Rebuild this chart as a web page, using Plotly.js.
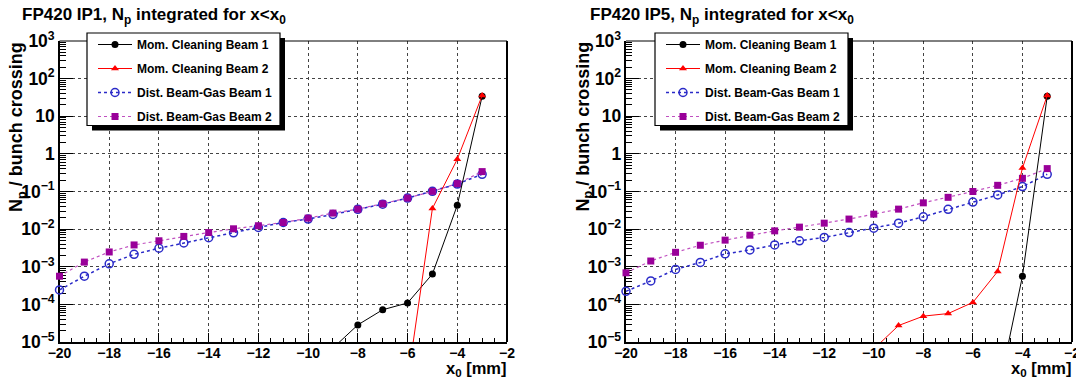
<!DOCTYPE html>
<html>
<head>
<meta charset="utf-8">
<script src="https://cdn.plot.ly/plotly-3.0.1.min.js"></script>
<style>html,body{margin:0;padding:0;background:#fff;}#chart{width:1076px;height:380px;}</style>
</head>
<body>
<div id="chart"></div>
<script>
// ---- data ----
var seriesNames = ['Mom. Cleaning Beam 1', 'Mom. Cleaning Beam 2', 'Dist. Beam-Gas Beam 1', 'Dist. Beam-Gas Beam 2'];
var panelTitles = ['FP420 IP1, N<sub>p</sub> integrated for x&lt;x<sub>0</sub>', 'FP420 IP5, N<sub>p</sub> integrated for x&lt;x<sub>0</sub>'];
var yTitle = 'N<sub>p</sub> / bunch crossing';
var xTitle = 'x<sub>0</sub> [mm]';

var xGas = [-20, -19, -18, -17, -16, -15, -14, -13, -12, -11, -10, -9, -8, -7, -6, -5, -4, -3];

// IP1
var ip1_mc1_x = [-9, -8, -7, -6, -5, -4, -3];
var ip1_mc1_y = [6.9e-6, 2.85e-5, 7.2e-5, 1.09e-4, 6.4e-4, 4.3e-2, 34];
var ip1_mc2_x = [-6, -5, -4, -3];
var ip1_mc2_y = [9e-7, 3.56e-2, 0.72, 35.5];
var ip1_bg1_y = [2.42e-4, 5.6e-4, 1.2e-3, 2.14e-3, 3.1e-3, 4.3e-3, 5.9e-3, 8.0e-3, 1.11e-2, 1.5e-2, 1.85e-2, 2.46e-2, 3.35e-2, 4.6e-2, 6.7e-2, 0.101, 0.158, 0.287];
var ip1_bg2_y = [5.6e-4, 1.33e-3, 2.47e-3, 3.8e-3, 4.9e-3, 6.4e-3, 8.1e-3, 1.02e-2, 1.23e-2, 1.5e-2, 1.96e-2, 2.67e-2, 3.4e-2, 4.7e-2, 6.7e-2, 0.101, 0.162, 0.338];

// IP5
var ip5_mc1_x = [-5, -4, -3];
var ip5_mc1_y = [4e-7, 5.6e-4, 34];
var ip5_mc2_x = [-10, -9, -8, -7, -6, -5, -4, -3];
var ip5_mc2_y = [6.5e-6, 2.74e-5, 4.87e-5, 5.7e-5, 1.13e-4, 7.5e-4, 0.42, 35.5];
var ip5_bg1_y = [2.23e-4, 4.2e-4, 8.5e-4, 1.3e-3, 2.2e-3, 2.8e-3, 3.8e-3, 4.9e-3, 6.0e-3, 8.1e-3, 1.06e-2, 1.44e-2, 2.13e-2, 3.35e-2, 5.25e-2, 8.1e-2, 0.135, 0.287];
var ip5_bg2_y = [6.9e-4, 1.42e-3, 2.42e-3, 3.73e-3, 5.1e-3, 6.9e-3, 9.0e-3, 1.13e-2, 1.44e-2, 1.85e-2, 2.5e-2, 3.4e-2, 5.0e-2, 7.0e-2, 0.10, 0.146, 0.224, 0.406];

// ---- styling ----
var FONT = 'Liberation Sans, Arial, Helvetica, sans-serif';
var W = 1076, H = 380;
function px(x) { return x / W; }
function py(y) { return 1 - y / H; }

var styles = [
  {mode: 'lines+markers', line: {color: '#000000', width: 1}, marker: {symbol: 'circle', size: 7, color: '#000000'}},
  {mode: 'lines+markers', line: {color: '#ff0000', width: 1}, marker: {symbol: 'triangle-up', size: 7, color: '#ff0000'}},
  {mode: 'lines+markers', line: {color: '#2a2ac8', width: 1.5, dash: 'dot'}, marker: {symbol: 'circle-open', size: 8, color: '#2a2ac8', line: {width: 1.5, color: '#2a2ac8'}}},
  {mode: 'lines+markers', line: {color: '#c050c0', width: 1.2, dash: 'dot'}, marker: {symbol: 'square', size: 7, color: '#990099'}}
];

function mk(i, x, y, xa, ya, lg) {
  var s = styles[i];
  return {
    type: 'scatter', x: x, y: y, xaxis: xa, yaxis: ya, name: '<b>' + seriesNames[i] + '</b>',
    mode: s.mode, line: s.line, marker: s.marker, cliponaxis: false,
    legend: lg, legendgroup: lg + '_' + i, legendrank: i + 1, showlegend: true, hoverinfo: 'skip'
  };
}

var traces = [
  mk(2, xGas, ip1_bg1_y, 'x', 'y', 'legend'),
  mk(3, xGas, ip1_bg2_y, 'x', 'y', 'legend'),
  mk(0, ip1_mc1_x, ip1_mc1_y, 'x', 'y', 'legend'),
  mk(1, ip1_mc2_x, ip1_mc2_y, 'x', 'y', 'legend'),
  mk(2, xGas, ip5_bg1_y, 'x2', 'y2', 'legend2'),
  mk(3, xGas, ip5_bg2_y, 'x2', 'y2', 'legend2'),
  mk(0, ip5_mc1_x, ip5_mc1_y, 'x2', 'y2', 'legend2'),
  mk(1, ip5_mc2_x, ip5_mc2_y, 'x2', 'y2', 'legend2')
];

var frames = [
  {l: 59.5, r: 507, t: 41, b: 342},
  {l: 626, r: 1072, t: 41, b: 342}
];

function xaxisDef(f, anchor) {
  return {
    domain: [px(f.l), px(f.r)], anchor: anchor, range: [-20, -2],
    tick0: -20, dtick: 2, ticks: 'inside', ticklen: 9, tickwidth: 1, tickcolor: '#000',
    minor: {dtick: 0.5, ticks: 'inside', ticklen: 4, tickcolor: '#000', showgrid: false},
    showgrid: true, gridcolor: '#444', griddash: 'dot', gridwidth: 1,
    showline: true, linecolor: '#000', linewidth: 2, mirror: false, zeroline: false,
    tickfont: {family: FONT, size: 14, color: '#000', weight: 'bold'},
    ticklabeloverflow: 'allow', ticklabelstandoff: -3,
    fixedrange: true, layer: 'below traces'
  };
}
function yaxisDef(f, anchor) {
  return {
    domain: [py(f.b), py(f.t)], anchor: anchor, type: 'log', range: [-5, 3],
    dtick: 1, exponentformat: 'power', ticks: 'inside', ticklen: 13, tickwidth: 1, tickcolor: '#000',
    minor: {dtick: 'D1', ticks: 'inside', ticklen: 6, tickcolor: '#000', showgrid: false},
    showgrid: true, gridcolor: '#444', griddash: 'dot', gridwidth: 1,
    showline: true, linecolor: '#000', linewidth: 2, mirror: false, zeroline: false,
    tickfont: {family: FONT, size: 14, color: '#000', weight: 'bold'},
    ticklabeloverflow: 'allow',
    fixedrange: true, layer: 'below traces'
  };
}

var legendBoxes = [
  {l: 87, r: 280, t: 33, b: 125.5},
  {l: 655, r: 848, t: 33, b: 125.5}
];

var shapes = [];
var annotations = [];
for (var k = 0; k < 2; k++) {
  var f = frames[k], xs = k === 0 ? 'x' : 'x2', ys = k === 0 ? 'y' : 'y2';
  shapes.push({type: 'line', xref: xs + ' domain', yref: ys + ' domain', x0: 0, x1: 1, y0: 1, y1: 1, line: {color: '#000', width: 1}, layer: 'above'});
  shapes.push({type: 'line', xref: xs + ' domain', yref: ys + ' domain', x0: 1, x1: 1, y0: 0, y1: 1, line: {color: '#000', width: 2}, layer: 'above'});
  var lb = legendBoxes[k];
  shapes.push({type: 'rect', xref: 'paper', yref: 'paper', x0: px(lb.l + 5), x1: px(lb.r + 5), y0: py(lb.b + 5), y1: py(lb.t + 5), fillcolor: '#000', line: {width: 0}, layer: 'above'});
  shapes.push({type: 'rect', xref: 'paper', yref: 'paper', x0: px(lb.l), x1: px(lb.r), y0: py(lb.b), y1: py(lb.t), fillcolor: '#fff', line: {color: '#000', width: 1.2}, layer: 'above'});
  annotations.push({text: '<b>' + panelTitles[k] + '</b>', xref: 'paper', yref: 'paper', x: px(k === 0 ? 20 : 588), y: py(16), xanchor: 'left', yanchor: 'middle', showarrow: false, font: {family: FONT, size: 17, color: '#000', weight: 'bold'}});
  annotations.push({text: '<b>' + yTitle + '</b>', xref: 'paper', yref: 'paper', x: px(f.l - 42.5), y: py(40), xanchor: 'center', yanchor: 'top', textangle: -90, showarrow: false, font: {family: FONT, size: 18, color: '#000', weight: 'bold'}});
  annotations.push({text: '<b>' + xTitle + '</b>', xref: 'paper', yref: 'paper', x: px(f.r + 1), y: 0, xanchor: 'right', yanchor: 'bottom', borderpad: 0, showarrow: false, font: {family: FONT, size: 16.5, color: '#000', weight: 'bold'}});
}

function legendDef(lb) {
  return {
    x: px(lb.l + 6), y: py(lb.t - 3), xanchor: 'left', yanchor: 'top',
    bgcolor: 'rgba(0,0,0,0)', borderwidth: 0, tracegroupgap: 5, traceorder: 'grouped',
    itemwidth: 34,
    font: {family: FONT, size: 12, color: '#000', weight: 'bold'}, itemclick: false, itemdoubleclick: false
  };
}

var layout = {
  width: W, height: H, margin: {l: 0, r: 0, t: 0, b: 0},
  paper_bgcolor: '#fff', plot_bgcolor: '#fff', showlegend: true,
  xaxis: xaxisDef(frames[0], 'y'), yaxis: yaxisDef(frames[0], 'x'),
  xaxis2: xaxisDef(frames[1], 'y2'), yaxis2: yaxisDef(frames[1], 'x2'),
  legend: legendDef(legendBoxes[0]), legend2: legendDef(legendBoxes[1]),
  shapes: shapes, annotations: annotations
};

Plotly.newPlot('chart', traces, layout, {displayModeBar: false, staticPlot: true});
</script>
</body>
</html>
